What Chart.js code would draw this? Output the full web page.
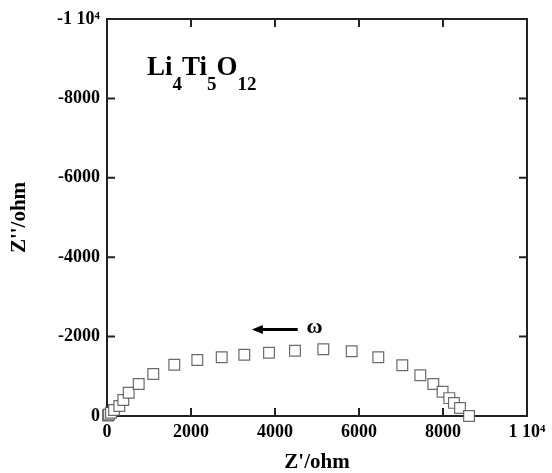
<!DOCTYPE html>
<html>
<head>
<meta charset="utf-8">
<script src="https://cdn.jsdelivr.net/npm/chart.js@4/dist/chart.umd.min.js"></script>
<style>
  html, body { margin: 0; padding: 0; background: #fff; }
  #wrap { width: 552px; height: 473px; }
</style>
</head>
<body>
<div id="wrap"><canvas id="nyq"></canvas></div>
<script>
// Nyquist data for Li4Ti5O12 (high frequency near origin)
var zReal = [24, 48, 95, 167, 293, 388, 517, 755, 1102, 1602, 2150, 2731, 3269, 3857,
             4476, 5150, 5826, 6460, 7031, 7460, 7769, 7990, 8150, 8260, 8405, 8620];
var zImag = [-15, -40, -80, -150, -252, -403, -587, -806, -1058, -1292, -1411, -1479, -1544, -1595,
             -1645, -1680, -1630, -1479, -1277, -1025, -806, -610, -450, -330, -200, 0];
var xTicks = [0, 2000, 4000, 6000, 8000, 10000];
var yTicks = [0, -2000, -4000, -6000, -8000, -10000];

var serif = "'Liberation Serif', 'Times New Roman', serif";

var points = [];
for (var i = 0; i < zReal.length; i++) {
    points.push({ x: zReal[i], y: zImag[i] });
}

function tickText(v) {
    if (v === 10000) return '1 10\u2074';
    if (v === -10000) return '-1 10\u2074';
    return String(v);
}

// box round the plot with inward ticks on all four sides
const framePlugin = {
    id: 'frame',
    beforeDatasetsDraw(chart) {
        const ctx = chart.ctx;
        const a = chart.chartArea;
        const x = chart.scales.x, y = chart.scales.y;
        const t = 8;
        ctx.save();
        ctx.strokeStyle = '#222';
        ctx.lineWidth = 2;
        ctx.strokeRect(a.left, a.top, a.right - a.left, a.bottom - a.top);
        ctx.beginPath();
        xTicks.forEach(function (v) {
            const px = x.getPixelForValue(v);
            ctx.moveTo(px, a.bottom); ctx.lineTo(px, a.bottom - t);
            ctx.moveTo(px, a.top); ctx.lineTo(px, a.top + t);
        });
        yTicks.forEach(function (v) {
            const py = y.getPixelForValue(v);
            ctx.moveTo(a.left, py); ctx.lineTo(a.left + t, py);
            ctx.moveTo(a.right, py); ctx.lineTo(a.right - t, py);
        });
        ctx.stroke();
        ctx.restore();
    },
    afterDraw(chart) {
        const ctx = chart.ctx;
        const x = chart.scales.x, y = chart.scales.y;
        ctx.save();
        ctx.fillStyle = '#000';
        ctx.textBaseline = 'alphabetic';
        // formula label
        var px = x.getPixelForValue(950), py = y.getPixelForValue(-8590);
        var parts = [['Li', 0], ['4', 1], ['Ti', 0], ['5', 1], ['O', 0], ['12', 1]];
        parts.forEach(function (p) {
            ctx.font = p[1] ? 'bold 19px ' + serif : 'bold 27px ' + serif;
            ctx.fillText(p[0], px, p[1] ? py + 15 : py);
            px += ctx.measureText(p[0]).width;
        });
        // frequency arrow
        var ax0 = x.getPixelForValue(3450), ax1 = x.getPixelForValue(4540);
        var ay = y.getPixelForValue(-2180);
        ctx.strokeStyle = '#000';
        ctx.lineWidth = 3;
        ctx.beginPath();
        ctx.moveTo(ax0 + 8, ay); ctx.lineTo(ax1, ay);
        ctx.stroke();
        ctx.beginPath();
        ctx.moveTo(ax0, ay); ctx.lineTo(ax0 + 11, ay - 4.5); ctx.lineTo(ax0 + 11, ay + 4.5);
        ctx.closePath();
        ctx.fill();
        ctx.font = 'bold 22px ' + serif;
        ctx.textBaseline = 'middle';
        ctx.fillText('\u03c9', x.getPixelForValue(4750), ay - 2);
        ctx.restore();
    }
};

new Chart(document.getElementById('nyq').getContext('2d'), {
    type: 'scatter',
    data: {
        datasets: [{
            data: points,
            pointStyle: 'rect',
            pointRadius: 7.6,
            pointHoverRadius: 7.6,
            borderWidth: 1.2,
            borderColor: 'rgba(70,70,70,0.8)',
            backgroundColor: '#fff',
            clip: false
        }]
    },
    options: {
        responsive: true,
        maintainAspectRatio: false,
        animation: false,
        events: [],
        layout: { padding: { left: 0, right: 25, top: 19, bottom: 0 } },
        plugins: { legend: { display: false }, tooltip: { enabled: false } },
        scales: {
            x: {
                type: 'linear',
                min: 0, max: 10000,
                afterFit: function (s) { s.height = 57; },
                afterBuildTicks: function (s) { s.ticks = xTicks.map(function (v) { return { value: v }; }); },
                grid: { display: false, drawTicks: false },
                border: { display: false },
                ticks: {
                    padding: 6,
                    color: '#000',
                    font: { family: serif, size: 18, weight: 'bold' },
                    callback: tickText
                },
                title: {
                    display: true,
                    text: "Z'/ohm",
                    color: '#000',
                    padding: { top: 0, bottom: 0 },
                    font: { family: serif, size: 21, weight: 'bold', lineHeight: 1 }
                }
            },
            y: {
                type: 'linear',
                min: -10000, max: 0,
                reverse: true,
                afterFit: function (s) { s.width = 107; },
                afterBuildTicks: function (s) { s.ticks = yTicks.map(function (v) { return { value: v }; }); },
                grid: { display: false, drawTicks: false },
                border: { display: false },
                ticks: {
                    padding: 7,
                    color: '#000',
                    font: { family: serif, size: 18, weight: 'bold' },
                    callback: tickText
                },
                title: {
                    display: true,
                    text: "Z''/ohm",
                    color: '#000',
                    padding: { top: 9, bottom: 0 },
                    font: { family: serif, size: 21, weight: 'bold', lineHeight: 1 }
                }
            }
        }
    },
    plugins: [framePlugin]
});
</script>
</body>
</html>
